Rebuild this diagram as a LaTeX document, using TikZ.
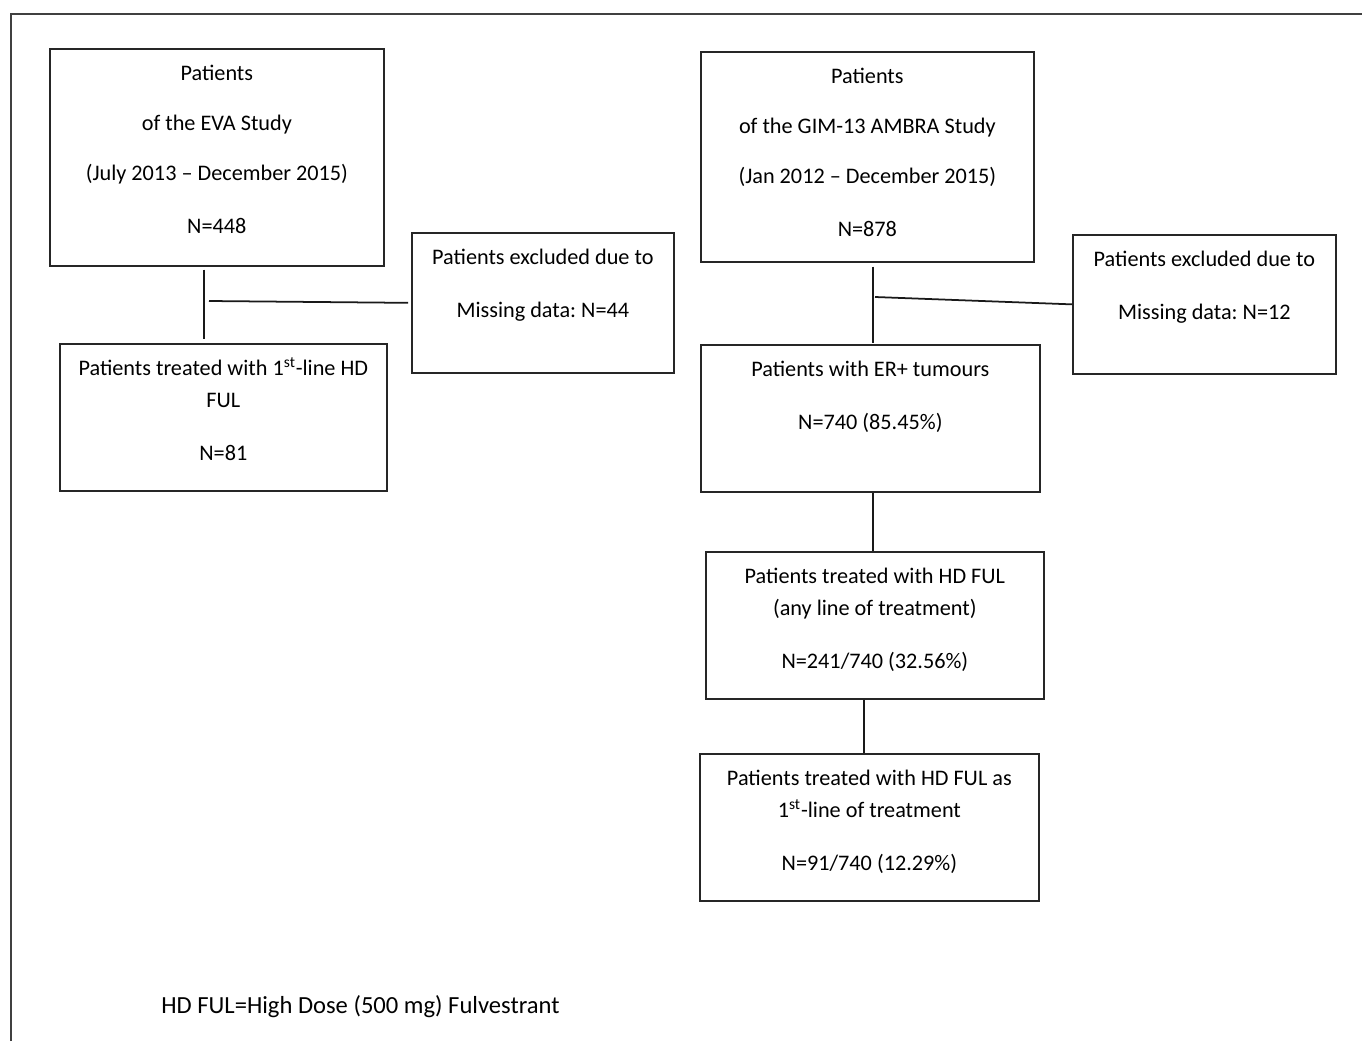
\documentclass[tikz,border=0pt]{standalone}
\usepackage{fontspec}
\setmainfont{Carlito}
\frenchspacing
\usetikzlibrary{positioning}
\tikzset{
    % flow chart box, text hangs from the top edge
    stage/.style={
        draw=black!85,
        line width=1pt,
        anchor=north west,
        align=flush center,
        inner sep=0pt,
        text height=0.63cm,
        font=\fontsize{12.65}{18.2}\selectfont,
    },
    % plain connector
    link/.style={
        draw=black!90,
        line width=1pt,
    },
    % outer frame
    frame/.style={
        draw=black!75,
        line width=0.9pt,
    },
    note/.style={
        inner sep=0pt,
        anchor=base west,
        font=\fontsize{14}{18.2}\selectfont,
    },
}

\begin{document}
\begin{tikzpicture}[x=0.02cm, y=-0.02cm]
    \useasboundingbox (0,0) rectangle (1362,1041);
    \draw[frame] (11,1041) -- (11,14) -- (1362,14);

    % EVA study
    \node[stage, text width=6.68cm, text depth=3.71cm] (eva) at (49,48)
        {Patients\\[10.2pt] of the EVA Study\\[10.2pt] (July 2013 -- December 2015)\\[12pt] N=448};
    \node[stage, text width=5.24cm, text depth=2.17cm] (excl1) at (411,232)
        {Patients excluded due to\\[12.3pt] Missing data: N=44};
    \node[stage, text width=6.54cm, text depth=2.31cm] (ful) at (59,343)
        {Patients treated with 1\textsuperscript{st}-line HD\\ FUL\\[12pt] N=81};

    % GIM-13 AMBRA study
    \node[stage, text width=6.66cm, text depth=3.57cm] (ambra) at (700,51)
        {Patients\\[10.2pt] of the GIM-13 AMBRA Study\\[10.2pt] (Jan 2012 -- December 2015)\\[12pt] N=878};
    \node[stage, text width=5.26cm, text depth=2.15cm] (excl2) at (1072,234)
        {Patients excluded due to\\[12.3pt] Missing data: N=12};
    \node[stage, text width=6.78cm, text depth=2.31cm] (erpos) at (700,344)
        {Patients with ER+ tumours\\[12pt] N=740 (85.45\%)};
    \node[stage, text width=6.76cm, text depth=2.31cm] (hdany) at (705,551)
        {Patients treated with HD FUL\\ (any line of treatment)\\[12pt] N=241/740 (32.56\%)};
    \node[stage, text width=6.78cm, text depth=2.31cm] (first) at (699,753)
        {Patients treated with HD FUL as\\ 1\textsuperscript{st}-line of treatment\\[12pt] N=91/740 (12.29\%)};

    % connectors
    \coordinate (j1) at (204,301);
    \coordinate (j2) at (873,297);
    \coordinate (j3) at (864,700);
    \draw[link, shorten <=0.06cm, shorten >=0.08cm] (eva.south -| j1) -- (ful.north -| j1);
    \draw[link, shorten >=0.06cm] ([xshift=0.1cm]j1) -- (excl1.west);
    \draw[link, shorten <=0.08cm, shorten >=0.02cm] (ambra.south -| j2) -- (erpos.north -| j2);
    \draw[link] ([xshift=0.04cm]j2) -- (excl2.west);
    \draw[link] (erpos.south -| j2) -- (hdany.north -| j2);
    \draw[link] (hdany.south -| j3) -- (first.north -| j3);

    \node[note] (foot) at (161,1013) {HD FUL=High Dose (500 mg) Fulvestrant};
\end{tikzpicture}
\end{document}
